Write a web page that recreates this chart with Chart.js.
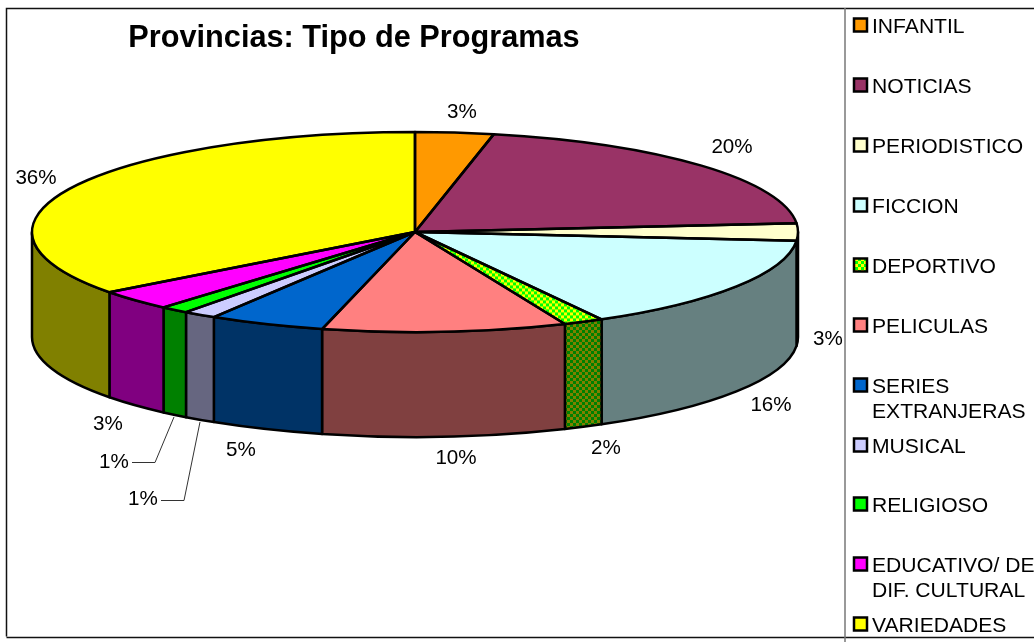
<!DOCTYPE html>
<html><head><meta charset="utf-8">
<style>html,body{margin:0;padding:0;background:#fff;overflow:hidden}canvas{display:block}</style>
<script src="https://cdn.jsdelivr.net/npm/chart.js@4"></script>
</head><body><canvas id="c" width="1034" height="642"></canvas>
<script>
const chartTitle = 'Provincias: Tipo de Programas';
const categories = ['INFANTIL','NOTICIAS','PERIODISTICO','FICCION','DEPORTIVO','PELICULAS','SERIES EXTRANJERAS','MUSICAL','RELIGIOSO','EDUCATIVO/ DE DIF. CULTURAL','VARIEDADES'];
const values = [3.3,20.3,2.8,15.5,1.7,10.3,4.9,1.4,1.2,3.3,35.3];
const percentLabels = ['3%','20%','3%','16%','2%','10%','5%','1%','1%','3%','36%'];

const topColors  = ['#FF9900','#993366','#FFFFCC','#CCFFFF','#00FF00','#FF8080','#0066CC','#CCCCFF','#00FF00','#FF00FF','#FFFF00'];
const sideColors = ['#804D00','#4D1A33','#808066','#668080','#008000','#804040','#003366','#666680','#008000','#800080','#808000'];
const HATCH = 4;
const labelPos = [[462,112],[732,147],[828,339],[771,405],[606,448],[456,458],[241,450],[114,462],[143,499],[108,424],[36,178]];
const legendLines = [['INFANTIL'],['NOTICIAS'],['PERIODISTICO'],['FICCION'],['DEPORTIVO'],['PELICULAS'],['SERIES','EXTRANJERAS'],['MUSICAL'],['RELIGIOSO'],['EDUCATIVO/ DE','DIF. CULTURAL'],['VARIEDADES']];
const legendY = [25,85,145,205,265,325,385,445,504,564,624];

const R = 383, K = 100/383, DEPTH = 105;

function checker(a,b,sy){
  const s = 3, t = document.createElement('canvas');
  t.width = t.height = s*2;
  const g = t.getContext('2d');
  g.fillStyle = a; g.fillRect(0,0,s*2,s*2);
  g.fillStyle = b; g.fillRect(0,0,s,s); g.fillRect(s,s,s,s);
  const p = g.createPattern(t,'repeat');
  if (sy !== 1) p.setTransform(new DOMMatrix().scale(1,sy));
  return p;
}
const topFill = topColors.slice();
topFill[HATCH] = checker('#FFFF00','#00FF00',1/K);
const sideFill = sideColors.slice();
sideFill[HATCH] = checker('#808000','#008000',1);

const pie3d = {
  id:'pie3d',
  beforeDraw(chart){
    const c = chart.ctx;
    c.save();
    c.fillStyle='#fff'; c.fillRect(0,0,1034,642);
    c.strokeStyle='#111'; c.lineWidth=1.5;
    c.beginPath();
    c.moveTo(6.5,636.5); c.lineTo(6.5,8.5); c.lineTo(1034,8.5);
    c.moveTo(6.5,637.5); c.lineTo(1034,637.5);
    c.stroke();
    c.strokeStyle='#777'; c.lineWidth=1.5;
    c.beginPath(); c.moveTo(845,8); c.lineTo(845,642); c.stroke();
    c.restore();
  },
  beforeDatasetsDraw(chart){
    const c = chart.ctx, arcs = chart.getDatasetMeta(0).data;
    c.save();
    c.lineWidth = 2.5; c.strokeStyle = '#000'; c.lineJoin='round';
    arcs.forEach((a,i)=>{
      const s = Math.max(a.startAngle,0), e = Math.min(a.endAngle,Math.PI);
      if (e <= s) return;
      const r = a.outerRadius;
      c.beginPath();
      c.ellipse(a.x,a.y,r,r*K,0,s,e);
      c.lineTo(a.x+r*Math.cos(e),a.y+r*K*Math.sin(e)+DEPTH);
      c.ellipse(a.x,a.y+DEPTH,r,r*K,0,e,s,true);
      c.closePath();
      c.fillStyle = sideFill[i]; c.fill(); c.stroke();
    });
    c.restore();
    const y0 = arcs[0].y;
    c.save();
    c.translate(0,y0); c.scale(1,K); c.translate(0,-y0);
  },
  afterDatasetsDraw(chart){
    const c = chart.ctx, arcs = chart.getDatasetMeta(0).data;
    c.restore();
    c.save();
    c.lineWidth = 2.5; c.strokeStyle = '#000'; c.lineJoin='round';
    arcs.forEach(a=>{
      c.beginPath();
      c.moveTo(a.x,a.y);
      c.ellipse(a.x,a.y,a.outerRadius,a.outerRadius*K,0,a.startAngle,a.endAngle);
      c.closePath(); c.stroke();
    });
    c.restore();
  },
  afterDraw(chart){
    const c = chart.ctx;
    c.save();
    c.fillStyle='#000'; c.textBaseline='middle';
    c.font='bold 30.7px "Liberation Sans", Arial, sans-serif';
    c.textAlign='center'; c.fillText(chartTitle,354,39);
    c.font='20.6px "Liberation Sans", Arial, sans-serif';
    percentLabels.forEach((t,i)=>c.fillText(t,labelPos[i][0],labelPos[i][1]));
    c.strokeStyle='#333'; c.lineWidth=1;
    c.beginPath();
    c.moveTo(132,462.5); c.lineTo(155,462.5); c.lineTo(174,417);
    c.moveTo(161,500.5); c.lineTo(184,500.5); c.lineTo(200,422);
    c.stroke();
    c.textAlign='left';
    c.font='21.1px "Liberation Sans", Arial, sans-serif';
    categories.forEach((n,i)=>{
      const y = legendY[i];
      c.fillStyle = topFill[i]===topColors[i] ? topColors[i] : checker('#FFFF00','#00FF00',1);
      c.fillRect(854,y-6.5,13,13);
      c.strokeStyle='#000'; c.lineWidth=2.5; c.strokeRect(854,y-6.5,13,13);
      c.fillStyle='#000';
      legendLines[i].forEach((t,j)=>c.fillText(t,872,y+2+j*25));
    });
    c.restore();
  }
};

new Chart(document.getElementById('c'),{
  type:'pie',
  data:{labels:categories,datasets:[{data:values,backgroundColor:topFill,borderWidth:0}]},
  options:{
    responsive:false,animation:false,radius:R,rotation:0,
    layout:{padding:{left:0,top:0,right:204,bottom:178}},
    plugins:{legend:{display:false},tooltip:{enabled:false},title:{display:false}}
  },
  plugins:[pie3d]
});
</script></body></html>
